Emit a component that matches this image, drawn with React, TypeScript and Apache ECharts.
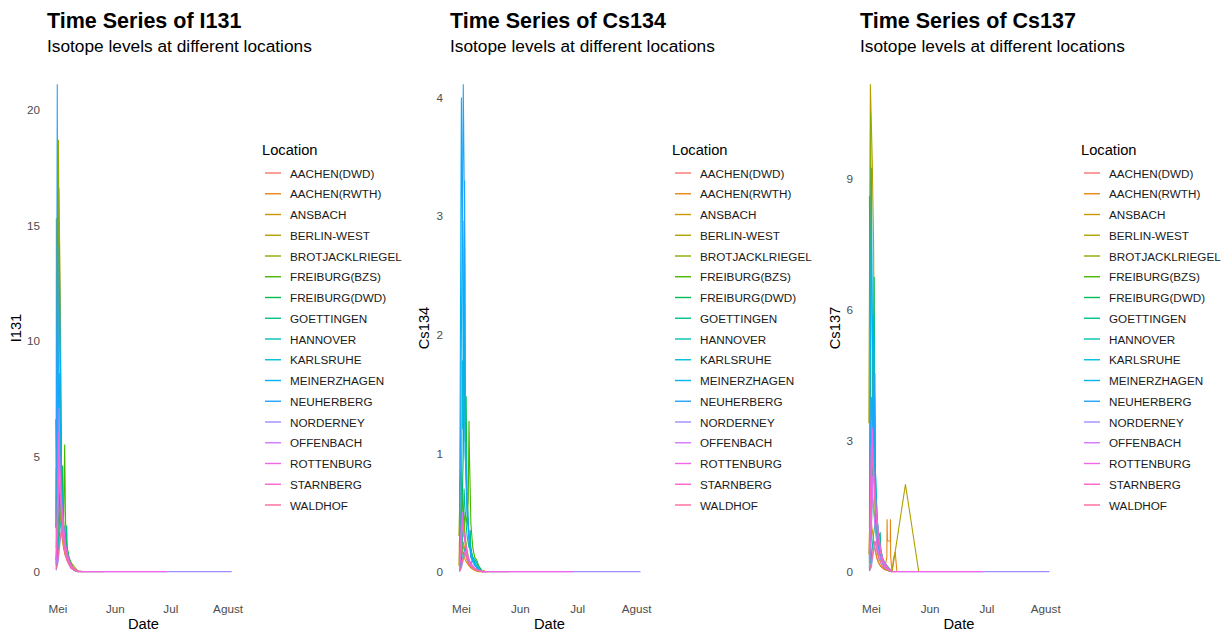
import React, { useEffect, useRef } from "react";
import * as echarts from "echarts";

const FONT = "'Liberation Sans', Arial, Helvetica, sans-serif";

const locations = [
  "AACHEN(DWD)", "AACHEN(RWTH)", "ANSBACH", "BERLIN-WEST", "BROTJACKLRIEGEL",
  "FREIBURG(BZS)", "FREIBURG(DWD)", "GOETTINGEN", "HANNOVER", "KARLSRUHE",
  "MEINERZHAGEN", "NEUHERBERG", "NORDERNEY", "OFFENBACH", "ROTTENBURG",
  "STARNBERG", "WALDHOF",
];

const locationColors = [
  "#F8766D", "#E68613", "#CF9400", "#B1A100", "#8AAB00",
  "#45B500", "#00BC51", "#00C087", "#00C1B2", "#00BCD6",
  "#00B2F3", "#23A2FF", "#9B8EFF", "#D376FF", "#F166E8",
  "#FF61C9", "#FF689F",
];

// Sampling day, counted as day of May 1986 (0 = 30 April, 32 = 1 June, 95 = 3 August)
const sampleDays: number[][] = [
  [0, 1, 2, 3, 4, 5, 6, 7, 8, 9, 10, 12, 14],
  [0, 1, 2, 3, 4, 5, 6, 7, 8, 9.2, 9.3, 9.5, 11, 11.1, 11.2, 11.9, 12.7, 13.6, 14.5],
  [-0.3, 0, 0.4, 1, 2, 3, 4, 5, 6, 7, 8, 10, 12],
  [-0.3, 0.5, 1.5, 2.2, 3, 4, 5, 12, 19, 26],
  [0, 0.1, 0.6, 1.2, 2, 3, 4, 5, 6, 7, 8, 10, 12],
  [0, 1, 2, 3, 4, 4.6, 5, 5.3, 6, 7, 8, 9, 10, 12],
  [0, 1, 2, 2.5, 2.6, 3, 3.5, 4, 5, 6, 7, 8, 10, 12],
  [0, 1, 2, 2.4, 3, 4, 5, 5.7, 6, 7, 8, 9, 10, 12],
  [0, 1, 2, 3, 4, 5, 6, 7, 8, 9, 11],
  [0, 1, 1.5, 1.9, 2.4, 3, 4, 5, 6, 7, 8, 9, 10, 12],
  [0, 1, 1.7, 2, 2.7, 3, 4, 5, 6, 7, 8, 10, 12],
  [0, 0.6, 1, 2, 2.9, 3, 4, 5, 6, 7, 8, 10, 12],
  [0, 1, 2, 3, 4, 5, 6, 7, 8, 10, 12, 15, 95],
  [0, 1, 1.6, 2, 3, 4, 5, 6, 7, 8, 9, 10, 12, 14],
  [0, 1, 1.5, 2, 3, 4, 5, 6, 7, 8, 10, 12, 60],
  [0, 1, 2, 3, 4, 5, 6, 7, 8, 10, 12],
  [0, 1, 2, 3, 4, 5, 6, 7, 8, 10, 12],
];

const i131Values: number[][] = [
  [0.3, 1.4, 2.6, 1.9, 1.1, 0.7, 0.5, 0.35, 0.2, 0.12, 0.06, 0.02, 0],
  [0.5, 2.2, 3.4, 2.0, 1.2, 0.8, 0.5, 0.3, 0.2, 0.1, 0.15, 0.1, 0.08, 0.1, 0.06, 0.02, 0.03, 0.02, 0],
  [1.9, 4.5, 2.2, 3.6, 2.8, 1.6, 1.0, 0.7, 0.5, 0.35, 0.2, 0.08, 0],
  [6.6, 3.0, 16.6, 12.1, 3.5, 1.5, 0.7, 0, 0, 0],
  [2.5, 15.3, 6.0, 18.7, 9.0, 4.0, 2.2, 1.3, 0.8, 0.5, 0.3, 0.1, 0],
  [2.0, 2.5, 3.2, 2.8, 1.8, 5.5, 2.5, 1.5, 1.0, 0.6, 0.4, 0.2, 0.1, 0],
  [0.4, 2.0, 3.5, 6.4, 4.0, 3.0, 4.6, 2.0, 1.5, 1.0, 0.6, 0.3, 0.1, 0],
  [0.2, 1.0, 2.5, 3.7, 2.6, 1.8, 1.2, 2.0, 0.9, 0.5, 0.3, 0.15, 0.05, 0],
  [0.1, 0.8, 1.8, 2.4, 1.5, 0.9, 0.6, 0.4, 0.2, 0.1, 0],
  [0.3, 3.0, 5.0, 8.6, 6.0, 3.0, 1.8, 1.1, 0.7, 0.4, 0.25, 0.15, 0.05, 0],
  [0.5, 3.5, 14.1, 11.5, 6.0, 3.5, 2.0, 1.2, 0.7, 0.4, 0.2, 0.05, 0],
  [1.0, 21.1, 7.0, 5.0, 3.8, 3.0, 1.8, 1.0, 0.6, 0.35, 0.2, 0.05, 0],
  [0.05, 0.4, 1.2, 2.0, 1.3, 0.8, 0.5, 0.3, 0.15, 0.05, 0.01, 0, 0],
  [0.3, 2.5, 7.1, 4.0, 2.5, 1.5, 0.9, 0.6, 0.4, 0.25, 0.15, 0.08, 0.03, 0],
  [0.5, 3.0, 6.0, 4.5, 3.0, 2.0, 1.2, 0.8, 0.5, 0.3, 0.1, 0, 0],
  [0.8, 4.0, 3.5, 2.5, 1.6, 1.0, 0.6, 0.4, 0.25, 0.08, 0],
  [0.1, 0.6, 1.4, 1.8, 1.2, 0.7, 0.45, 0.3, 0.15, 0.05, 0],
];

const cs134Values: number[][] = [
  [0.02, 0.12, 0.22, 0.15, 0.1, 0.06, 0.04, 0.03, 0.02, 0.01, 0.01, 0, 0],
  [0.03, 0.15, 0.25, 0.18, 0.1, 0.07, 0.05, 0.03, 0.02, 0.01, 0.02, 0.01, 0.01, 0.02, 0.01, 0, 0.01, 0, 0],
  [0.05, 0.26, 0.12, 0.18, 0.15, 0.1, 0.07, 0.05, 0.03, 0.02, 0.01, 0, 0],
  [0.3, 0.85, 0.6, 0.45, 0.25, 0.12, 0.05, 0, 0, 0],
  [0.2, 0.76, 0.3, 0.6, 0.5, 0.3, 0.18, 0.1, 0.06, 0.04, 0.02, 0.01, 0],
  [0.03, 0.2, 0.35, 0.5, 0.4, 0.6, 1.27, 0.93, 0.4, 0.2, 0.12, 0.1, 0.05, 0],
  [0.02, 0.3, 1.0, 1.8, 2.27, 1.1, 1.48, 0.6, 0.3, 0.2, 0.12, 0.1, 0.05, 0],
  [0.01, 0.1, 0.4, 0.7, 0.5, 0.3, 0.2, 0.35, 0.12, 0.1, 0.08, 0.05, 0.02, 0],
  [0.01, 0.06, 0.15, 0.2, 0.12, 0.08, 0.05, 0.12, 0.08, 0.03, 0],
  [0.02, 0.5, 1.78, 1.2, 2.96, 1.0, 0.5, 0.3, 0.15, 0.12, 0.1, 0.08, 0.03, 0],
  [0.05, 4.0, 2.5, 1.5, 3.3, 1.2, 0.6, 0.3, 0.15, 0.1, 0.06, 0.02, 0],
  [0.1, 1.2, 2.0, 4.11, 2.44, 1.0, 0.5, 0.25, 0.12, 0.08, 0.05, 0.02, 0],
  [0, 0.03, 0.1, 0.18, 0.12, 0.08, 0.05, 0.03, 0.02, 0.01, 0, 0, 0],
  [0.02, 0.2, 0.5, 0.35, 0.25, 0.15, 0.1, 0.07, 0.05, 0.03, 0.02, 0.01, 0, 0],
  [0.03, 0.3, 0.45, 0.35, 0.25, 0.15, 0.1, 0.06, 0.04, 0.02, 0.01, 0, 0],
  [0.05, 0.4, 0.35, 0.25, 0.15, 0.1, 0.06, 0.04, 0.02, 0.01, 0],
  [0, 0.05, 0.12, 0.16, 0.1, 0.06, 0.04, 0.03, 0.02, 0.01, 0],
];

const cs137Values: number[][] = [
  [0.05, 0.4, 0.7, 0.5, 0.3, 0.18, 0.12, 0.08, 0.05, 0.03, 0.02, 0, 0],
  [0.2, 1.5, 4.2, 1.8, 0.9, 0.6, 0.4, 0.2, 0.05, 0.34, 1.2, 0.7, 0.7, 1.2, 0.34, 0, 0.3, 0.45, 0],
  [0.4, 0.9, 0.5, 1.1, 0.8, 0.5, 0.3, 0.2, 0.12, 0.08, 0.05, 0.02, 0],
  [3.4, 11.16, 9.4, 7.5, 1.4, 0.6, 0.3, 0, 2.0, 0],
  [1.0, 2.3, 10.5, 6.0, 3.0, 1.5, 0.8, 0.5, 0.3, 0.2, 0.1, 0.03, 0],
  [8.6, 2.0, 1.5, 1.2, 0.9, 0.7, 0.8, 0.6, 0.4, 0.25, 0.15, 0.08, 0.04, 0],
  [0.1, 1.5, 4.0, 6.75, 4.5, 2.0, 1.8, 1.2, 0.8, 0.5, 0.3, 0.2, 0.1, 0],
  [0.05, 0.8, 3.0, 5.9, 2.5, 1.2, 0.8, 0.9, 0.5, 0.3, 0.2, 0.1, 0.05, 0],
  [0.02, 0.3, 0.8, 1.1, 0.7, 0.45, 0.3, 0.2, 0.1, 0.05, 0],
  [0.1, 2.0, 4.0, 3.5, 5.4, 2.5, 1.3, 0.7, 0.4, 0.3, 0.2, 0.15, 0.05, 0],
  [0.2, 9.25, 5.0, 3.0, 4.0, 2.0, 1.0, 0.5, 0.3, 0.2, 0.1, 0.03, 0],
  [0.3, 3.1, 4.0, 3.0, 4.55, 2.0, 1.0, 0.5, 0.3, 0.2, 0.1, 0.03, 0],
  [0.01, 0.1, 0.4, 0.7, 0.5, 0.3, 0.2, 0.12, 0.08, 0.03, 0.01, 0, 0],
  [0.1, 1.0, 2.2, 1.5, 1.0, 0.6, 0.4, 0.3, 0.2, 0.12, 0.08, 0.04, 0.01, 0],
  [0.2, 2.0, 3.3, 2.5, 1.8, 1.2, 0.8, 0.5, 0.3, 0.2, 0.08, 0, 0],
  [0.3, 2.9, 2.2, 1.6, 1.0, 0.6, 0.4, 0.25, 0.15, 0.05, 0],
  [0.02, 0.2, 0.5, 0.7, 0.45, 0.3, 0.2, 0.12, 0.08, 0.03, 0],
];

const isotopeNames = ["I131", "Cs134", "Cs137"];
const isotopeValues = [i131Values, cs134Values, cs137Values];
const yTickValues = [
  [0, 5, 10, 15, 20],
  [0, 1, 2, 3, 4],
  [0, 3, 6, 9],
];
const monthTickDays = [1, 32, 62, 93];
const monthLabels = ["Mei", "Jun", "Jul", "Agust"];
const xRangeDays = [-5.5, 100];

const panelGrids = [
  { left: 46, top: 60, width: 195, height: 536, outerBoundsMode: "none", containLabel: false },
  { left: 449, top: 60, width: 201, height: 536, outerBoundsMode: "none", containLabel: false },
  { left: 859, top: 60, width: 200, height: 536, outerBoundsMode: "none", containLabel: false },
];
const titleLefts = [47, 450, 860];
const legendLefts = [265, 675, 1084];
const legendTitleLefts = [262, 672, 1081];
const yNameGaps = [22, 18, 17];

export default function App() {
  const ref = useRef<HTMLDivElement>(null);

  useEffect(() => {
    document.body.style.margin = "0";
    if (!ref.current) return;
    const chart = echarts.init(ref.current, undefined, { renderer: "svg" });

    const titles: any[] = [];
    const legends: any[] = [];
    const xAxes: any[] = [];
    const yAxes: any[] = [];
    const series: any[] = [];

    isotopeNames.forEach((iso, p) => {
      titles.push({
        text: `Time Series of ${iso}`,
        subtext: "Isotope levels at different locations",
        left: titleLefts[p],
        top: 10,
        padding: 0,
        itemGap: 5,
        textStyle: { fontFamily: FONT, fontSize: 21.5, fontWeight: "bold", color: "#000" },
        subtextStyle: { fontFamily: FONT, fontSize: 17.3, color: "#000" },
      });
      titles.push({
        text: "Location",
        left: legendTitleLefts[p],
        top: 142,
        padding: 0,
        textStyle: { fontFamily: FONT, fontSize: 14.7, fontWeight: "normal", color: "#000" },
      });
      legends.push({
        orient: "vertical",
        left: legendLefts[p],
        top: 167,
        padding: 0,
        itemWidth: 16,
        itemHeight: 12,
        itemGap: 8.75,
        symbolKeepAspect: true,
        icon: "path://M0,0h16v1.4h-16z",
        selectedMode: false,
        data: locations,
        textStyle: { fontFamily: FONT, fontSize: 11.7, color: "#1A1A1A", padding: [0, 0, 0, 4] },
      });
      xAxes.push({
        type: "value",
        gridIndex: p,
        min: xRangeDays[0],
        max: xRangeDays[1],
        name: "Date",
        nameLocation: "middle",
        nameGap: 20,
        nameMoveOverlap: false,
        nameTextStyle: { fontFamily: FONT, fontSize: 14.7, color: "#000" },
        axisLine: { show: false },
        axisTick: { show: false },
        splitLine: { show: false },
        axisLabel: {
          customValues: monthTickDays,
          margin: 6,
          fontFamily: FONT,
          fontSize: 11.7,
          color: "#4D4D4D",
          formatter: (v: number) => {
            const i = monthTickDays.indexOf(v);
            return i >= 0 ? monthLabels[i] : "";
          },
        },
      });
      yAxes.push({
        type: "value",
        gridIndex: p,
        min: (e: any) => e.min - 0.05 * (e.max - e.min),
        max: (e: any) => e.max + 0.05 * (e.max - e.min),
        name: iso,
        nameLocation: "middle",
        nameGap: yNameGaps[p],
        nameTextStyle: { fontFamily: FONT, fontSize: 14.7, color: "#000" },
        axisLine: { show: false },
        axisTick: { show: false },
        splitLine: { show: false },
        axisLabel: {
          customValues: yTickValues[p],
          margin: 6,
          fontFamily: FONT,
          fontSize: 11.7,
          color: "#4D4D4D",
        },
      });
      locations.forEach((loc, i) => {
        const vals = isotopeValues[p][i];
        series.push({
          type: "line",
          name: loc,
          xAxisIndex: p,
          yAxisIndex: p,
          color: locationColors[i],
          symbol: "none",
          showSymbol: false,
          silent: true,
          lineStyle: { width: 1.1, color: locationColors[i] },
          data: sampleDays[i].map((d, k) => [d, vals[k]]),
        });
      });
    });

    chart.setOption({
      animation: false,
      backgroundColor: "#fff",
      textStyle: { fontFamily: FONT },
      title: titles,
      legend: legends,
      grid: panelGrids,
      xAxis: xAxes,
      yAxis: yAxes,
      series,
    });

    return () => chart.dispose();
  }, []);

  return <div ref={ref} style={{ width: 1227, height: 632 }} />;
}
